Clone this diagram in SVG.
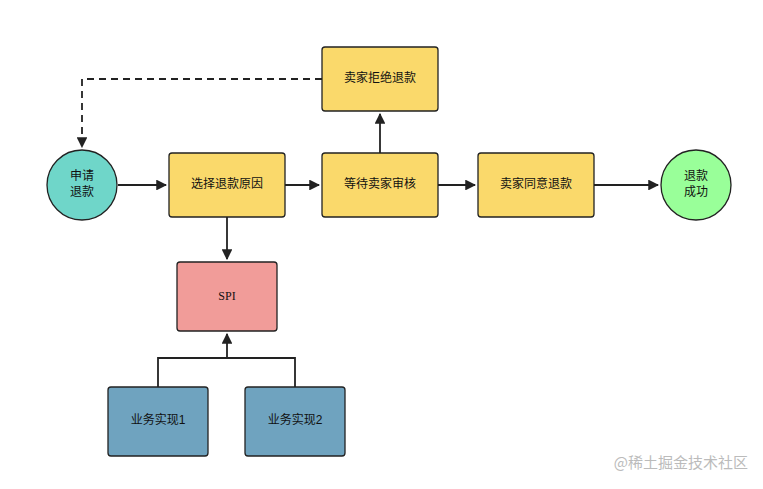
<svg xmlns="http://www.w3.org/2000/svg" width="763" height="489" viewBox="0 0 763 489">
<style>
.y{fill:#fad96b;stroke:#222;stroke-width:1.3}
.b{fill:#6fa3bf;stroke:#222;stroke-width:1.3}
.t{font-family:"Liberation Sans","Noto Sans CJK SC",sans-serif;font-size:12px;fill:#111;text-anchor:middle;dominant-baseline:middle}
.c{fill:none;stroke:#222;stroke-width:1.8}
</style>
<defs><marker id="a" viewBox="0 0 10 10" refX="9" refY="5" markerWidth="6" markerHeight="6" orient="auto"><path d="M0,0L10,5L0,10z" fill="#222"/></marker></defs>
<rect width="763" height="489" fill="#fff"/>
<g id="connectors">
<path class="c" d="M118,185H166" marker-end="url(#a)"/>
<path class="c" d="M285,185H319" marker-end="url(#a)"/>
<path class="c" d="M438,185H475" marker-end="url(#a)"/>
<path class="c" d="M594,185H658" marker-end="url(#a)"/>
<path class="c" d="M380,153V114" marker-end="url(#a)"/>
<path class="c" d="M322,79H82V147" stroke-dasharray="7,5" marker-end="url(#a)"/>
<path class="c" d="M227,217V259" marker-end="url(#a)"/>
<path class="c" d="M158,387V358H295V387M227,358V334" marker-end="url(#a)"/>
</g>
<g id="n1"><circle cx="82" cy="185" r="35" fill="#6fd6c9" stroke="#222" stroke-width="1.3"/><text class="t" x="82" y="177">申请</text><text class="t" x="82" y="193">退款</text></g>
<g id="n2"><rect class="y" x="169" y="153" width="116" height="64" rx="3"/><text class="t" x="227" y="185">选择退款原因</text></g>
<g id="n3"><rect class="y" x="322" y="153" width="116" height="64" rx="3"/><text class="t" x="380" y="185">等待卖家审核</text></g>
<g id="n4"><rect class="y" x="478" y="153" width="116" height="64" rx="3"/><text class="t" x="536" y="185">卖家同意退款</text></g>
<g id="n5"><circle cx="696" cy="185" r="35" fill="#99ff99" stroke="#222" stroke-width="1.3"/><text class="t" x="696" y="177">退款</text><text class="t" x="696" y="193">成功</text></g>
<g id="n6"><rect class="y" x="322" y="47" width="116" height="64" rx="3"/><text class="t" x="380" y="79">卖家拒绝退款</text></g>
<g id="n7"><rect x="177" y="262" width="100" height="69" rx="3" fill="#f19c99" stroke="#222" stroke-width="1.3"/><text class="t" x="227" y="297" style="font-family:'Liberation Serif',serif">SPI</text></g>
<g id="n8"><rect class="b" x="108" y="387" width="100" height="69" rx="3"/><text class="t" x="158" y="421">业务实现1</text></g>
<g id="n9"><rect class="b" x="245" y="387" width="100" height="69" rx="3"/><text class="t" x="295" y="421">业务实现2</text></g>
<text x="748" y="468" style="font-family:'Noto Sans CJK SC',sans-serif;font-size:15px;fill:#bbb;text-anchor:end">@稀土掘金技术社区</text>
</svg>
